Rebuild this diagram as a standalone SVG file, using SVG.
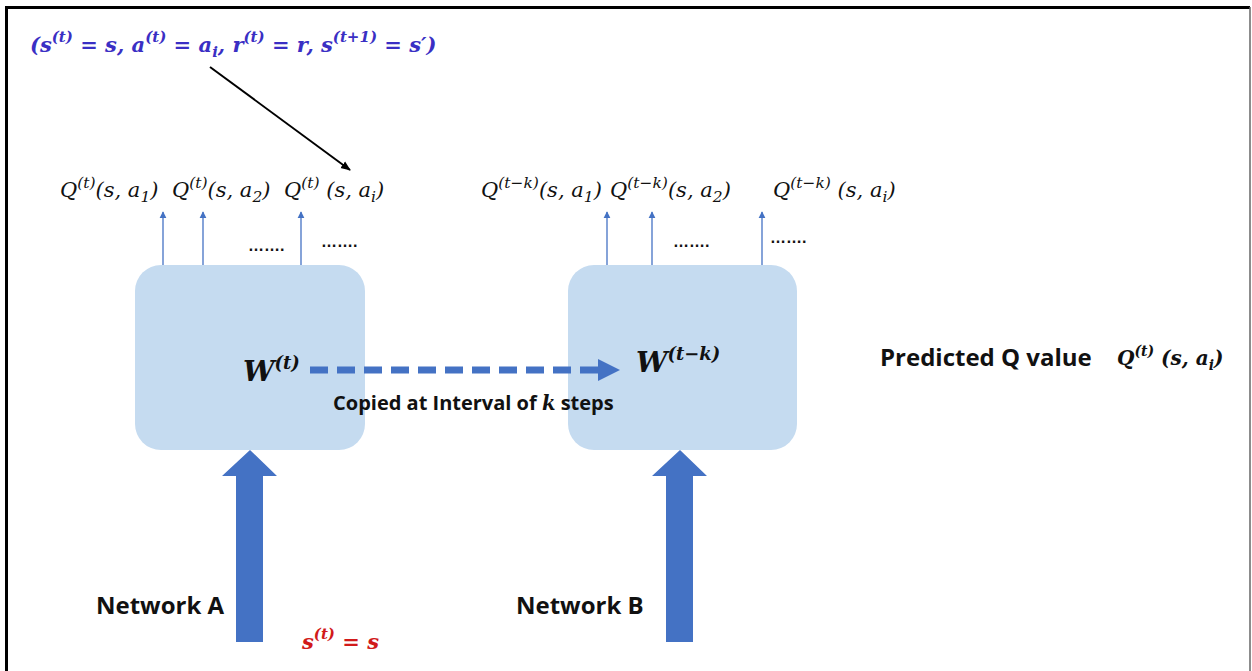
<svg xmlns="http://www.w3.org/2000/svg" width="1252" height="671" viewBox="0 0 1252 671">
<defs>
<style>
.m{font-family:"DejaVu Serif","Liberation Serif",serif;font-style:italic}
.q{font-size:21px;fill:#111}
.sup{font-size:15.5px}
.b{font-family:"Open Sans","Liberation Sans",sans-serif;font-weight:bold;fill:#111}
.box{fill:#c5dbf0}
.thin{stroke:#4472c4;stroke-width:1.3;fill:none}
.dots{font-family:"Liberation Sans",sans-serif;font-size:16px;font-weight:bold;fill:#111}
</style>
<marker id="sa" viewBox="0 0 10 10" refX="9" refY="5" markerWidth="7" markerHeight="8" markerUnits="userSpaceOnUse" orient="auto"><path d="M0,0 L10,5 L0,10 z" fill="#4472c4"/></marker>
<marker id="ba" viewBox="0 0 10 10" refX="9" refY="5" markerWidth="10" markerHeight="10" markerUnits="userSpaceOnUse" orient="auto"><path d="M0,1 L10,5 L0,9 z" fill="#000"/></marker>
</defs>
<rect x="0" y="0" width="1252" height="671" fill="#fff"/>
<path d="M6.5,672 V7.5 H1250" fill="none" stroke="#000" stroke-width="3"/>
<path d="M1250,7 V672" stroke="#666" stroke-width="1.5"/>

<g id="formula-top">
<text class="m" x="30" y="52" font-size="21" font-weight="bold" fill="#3a2fc4">(s<tspan font-size="15" dy="-10">(t)</tspan><tspan dy="10"> = s, a</tspan><tspan font-size="15" dy="-10">(t)</tspan><tspan dy="10"> = a</tspan><tspan font-size="15" dy="5">i</tspan><tspan dy="-5">, r</tspan><tspan font-size="15" dy="-10">(t)</tspan><tspan dy="10"> = r, s</tspan><tspan font-size="15" dy="-10">(t+1)</tspan><tspan dy="10"> = s′)</tspan></text>
</g>

<g id="network-a">
<rect class="box" x="135" y="265" width="230" height="185" rx="26"/>
<text class="m" x="243" y="381" font-size="28" font-weight="bold" fill="#111">W<tspan font-size="18" dy="-12">(t)</tspan></text>
</g>

<g id="network-b">
<rect class="box" x="568" y="265" width="229" height="185" rx="26"/>
<text class="m" x="636" y="372" font-size="28" font-weight="bold" fill="#111">W<tspan font-size="18" dy="-12">(t−k)</tspan></text>
</g>

<g id="q-labels-a">
<text class="m q" x="60" y="197">Q<tspan class="sup" dy="-9">(t)</tspan><tspan dy="9">(s, a</tspan><tspan class="sup" dy="5">1</tspan><tspan dy="-5">)</tspan></text>
<text class="m q" x="172" y="197">Q<tspan class="sup" dy="-9">(t)</tspan><tspan dy="9">(s, a</tspan><tspan class="sup" dy="5">2</tspan><tspan dy="-5">)</tspan></text>
<text class="m q" x="284" y="197">Q<tspan class="sup" dy="-9">(t)</tspan><tspan dy="9"> (s, a</tspan><tspan class="sup" dy="5">i</tspan><tspan dy="-5">)</tspan></text>
<text class="dots" x="248" y="251">…….</text>
<text class="dots" x="321" y="247">…….</text>
</g>

<g id="q-labels-b">
<text class="m q" x="481" y="197">Q<tspan class="sup" dy="-9">(t−k)</tspan><tspan dy="9">(s, a</tspan><tspan class="sup" dy="5">1</tspan><tspan dy="-5">)</tspan></text>
<text class="m q" x="610" y="197">Q<tspan class="sup" dy="-9">(t−k)</tspan><tspan dy="9">(s, a</tspan><tspan class="sup" dy="5">2</tspan><tspan dy="-5">)</tspan></text>
<text class="m q" x="773" y="197">Q<tspan class="sup" dy="-9">(t−k)</tspan><tspan dy="9"> (s, a</tspan><tspan class="sup" dy="5">i</tspan><tspan dy="-5">)</tspan></text>
<text class="dots" x="673" y="247">…….</text>
<text class="dots" x="770" y="243">…….</text>
</g>

<g id="legend">
<text class="b" x="880" y="366" font-size="24">Predicted Q value</text>
<text class="m" x="1117" y="365" font-size="20" font-weight="bold" fill="#111">Q<tspan font-size="14" dy="-9">(t)</tspan><tspan dy="9"> (s, a</tspan><tspan font-size="14" dy="5">i</tspan><tspan dy="-5">)</tspan></text>
</g>

<g id="labels">
<text class="b" x="96" y="614" font-size="24">Network A</text>
<text class="b" x="516" y="614" font-size="24">Network B</text>
<text class="m" x="302" y="649" font-size="21" font-weight="bold" fill="#d11a1a">s<tspan font-size="15" dy="-10">(t)</tspan><tspan dy="10"> = s</tspan></text>
<text class="b" x="333" y="410" font-size="20">Copied at Interval of <tspan class="m" font-size="19.5" font-weight="bold">k</tspan> steps</text>
</g>

<g id="connectors">
<path d="M210,67 L350,170" stroke="#000" stroke-width="2" marker-end="url(#ba)"/>
<path class="thin" d="M163,265 V212" marker-end="url(#sa)"/>
<path class="thin" d="M203,265 V212" marker-end="url(#sa)"/>
<path class="thin" d="M301,265 V212" marker-end="url(#sa)"/>
<path class="thin" d="M607,265 V212" marker-end="url(#sa)"/>
<path class="thin" d="M652,265 V212" marker-end="url(#sa)"/>
<path class="thin" d="M762,265 V212" marker-end="url(#sa)"/>
<path d="M310,370 H602" stroke="#4472c4" stroke-width="7" stroke-dasharray="18,9" fill="none"/>
<path d="M598,359 L620,370 L598,381 z" fill="#4472c4"/>
<path d="M250,450 L277,476 L263,476 L263,642 L236,642 L236,476 L222,476 z" fill="#4472c4"/>
<path d="M680,450 L707,476 L693,476 L693,642 L666,642 L666,476 L652,476 z" fill="#4472c4"/>
</g>
</svg>
